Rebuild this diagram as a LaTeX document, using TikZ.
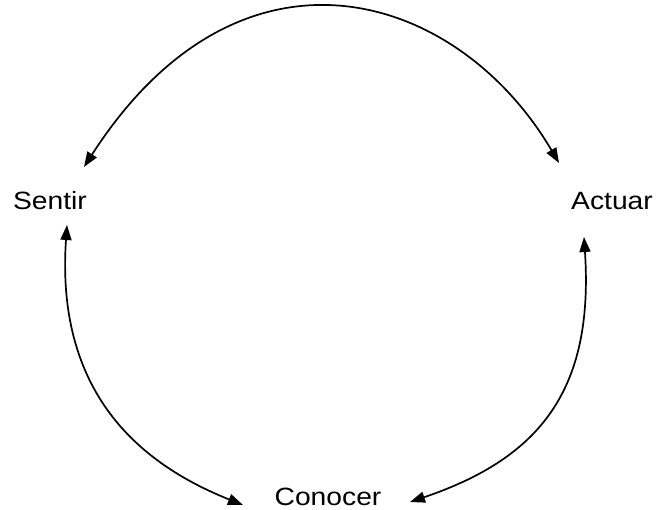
\documentclass[tikz,border=0pt]{standalone}
\usepackage{fontspec}
\setmainfont{Liberation Sans}
\usepackage{tikz}
\usetikzlibrary{arrows.meta}

\begin{document}
\begin{tikzpicture}[
  x=1pt, y=-1pt,
  >={Triangle[length=15pt,width=11pt]},
  lbl/.style={font=\fontsize{25}{29}\selectfont, inner sep=0pt, anchor=base, xscale=1.13, transform shape},
  arc/.style={<->, line width=1.7pt}]
\useasboundingbox (0,0) rectangle (656,510);
% the three words
\node[lbl] (sentir) at (50,210) {Sentir};
\node[lbl] (actuar) at (612,210) {Actuar};
\node[lbl] (conocer) at (328,505) {Conocer};
% arcs between them
\draw[arc] ([shift={(34,-43)}]sentir.base) .. controls +(157,-244) and +(-101,-172) .. ([shift={(-53,-47)}]actuar.base);
\draw[arc] ([shift={(17,15)}]sentir.base) .. controls +(-12,175) and +(-95,-38) .. ([shift={(-85,0)}]conocer.base);
\draw[arc] ([shift={(-28,27)}]actuar.base) .. controls +(10,153) and +(130,-44) .. ([shift={(82,-3)}]conocer.base);
\end{tikzpicture}
\end{document}
